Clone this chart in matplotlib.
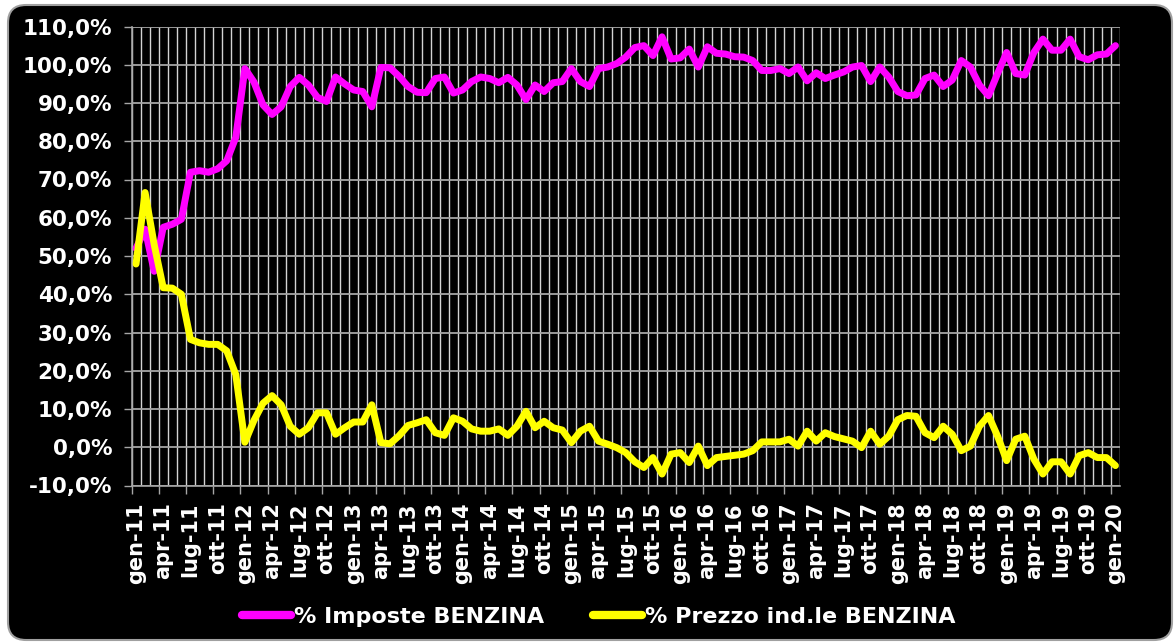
import numpy as np
import matplotlib
matplotlib.use("Agg")
import matplotlib.pyplot as plt
from matplotlib.patches import FancyBboxPatch
from matplotlib.transforms import IdentityTransform

# ---------------- data ----------------
month_names = ["gen", "feb", "mar", "apr", "mag", "giu",
               "lug", "ago", "set", "ott", "nov", "dic"]
years = list(range(11, 21))
months = [f"{m}-{y:02d}" for y in years for m in month_names][:109]

imposte = [52, 57, 46, 57.5, 58.3, 59.6, 71.9, 72.3, 71.9, 72.8,
           74.9, 81, 99, 95.5, 89.5, 87, 89, 94.3, 96.7, 94.7,
           91.5, 90.4, 96.8, 95, 93.4, 93, 89, 99.3, 99.2, 97,
           94.3, 92.8, 92.7, 96.4, 96.8, 92.6, 93.4, 95.6, 96.8, 96.4,
           95.3, 96.7, 94.7, 90.9, 94.7, 93, 95.3, 95.6, 99, 95.6,
           94.3, 99, 99.4, 100.3, 102, 104.5, 105, 102.4, 107.3, 101.5,
           101.8, 104.1, 99.4, 104.7, 103, 102.8, 102.1, 102, 101.1, 98.5,
           98.5, 99, 97.7, 99.4, 95.8, 97.9, 96.4, 97.3, 98.1, 99.4,
           99.8, 95.6, 99.4, 96.8, 93, 91.9, 92.1, 96.4, 97.3, 94.3,
           96, 101.1, 99.4, 94.7, 91.9, 97.7, 103.2, 97.7, 97.3, 103.2,
           106.7, 103.8, 103.8, 106.7, 102.1, 101.3, 102.6, 102.8, 105]

prezzo = [47.9, 66.6, 53, 41.7, 41.6, 40, 28.2, 27.3, 26.9, 26.9,
          25.2, 19, 1.3, 7, 11.5, 13.5, 11.1, 5.5, 3.4, 5.1,
          9, 9, 3.4, 5.1, 6.6, 6.6, 11.1, 1.2, 0.9, 3,
          5.7, 6.4, 7.2, 3.8, 3.1, 7.7, 6.8, 4.8, 4.2, 4.2,
          4.8, 3.1, 5.5, 9.4, 5.1, 6.8, 5.1, 4.5, 1.2, 4.2,
          5.5, 1.6, 0.8, -0.1, -1.4, -3.8, -5.3, -2.7, -7, -1.8,
          -1.4, -4, 0.3, -4.8, -2.7, -2.4, -2.1, -1.8, -0.9, 1.4,
          1.4, 1.4, 2.1, 0.3, 4.2, 1.6, 3.8, 2.8, 2.2, 1.6,
          -0.1, 4.2, 0.8, 2.9, 7.2, 8.3, 8.1, 3.8, 2.5, 5.5,
          3.4, -0.9, 0.3, 5.5, 8.3, 2.9, -3.5, 2.1, 2.9, -3.1,
          -7, -3.8, -3.8, -7, -2.2, -1.4, -2.7, -2.7, -4.8]

series_labels = ["% Imposte BENZINA", "% Prezzo ind.le BENZINA"]
y_ticks = list(range(-10, 111, 10))

# ---------------- figure ----------------
W, H = 1175, 644
fig = plt.figure(figsize=(W / 100, H / 100), dpi=100)
fig.patch.set_facecolor("white")

panel = FancyBboxPatch((8, 4), 1164, 635,
                       boxstyle="round,pad=0,rounding_size=18",
                       transform=IdentityTransform(),
                       facecolor="black", edgecolor="#a0a0a0",
                       linewidth=1.5, zorder=0)
fig.add_artist(panel)

left, right, top, bottom = 131.5, 1120, 26.5, 485.5
ax = fig.add_axes([left / W, 1 - bottom / H, (right - left) / W, (bottom - top) / H])
ax.set_facecolor("black")
ax.set_zorder(1)

n = len(months)
x = np.arange(n)

# vertical grid lines at month boundaries
ax.vlines(np.arange(n + 1) - 0.5, -10, 110, colors="#d4d4d4", linewidth=1.0, zorder=0.5)
ax.set_axisbelow(True)
ax.yaxis.grid(True, color="#a6a6a6", linewidth=1.3, zorder=0.6)

ax.plot(x, imposte, color="#FF00FF", linewidth=5, solid_joinstyle="round",
        solid_capstyle="round", label=series_labels[0], zorder=3)
ax.plot(x, prezzo, color="#FFFF00", linewidth=5, solid_joinstyle="round",
        solid_capstyle="round", label=series_labels[1], zorder=4)

ax.set_xlim(-0.5, n - 0.5)
ax.set_ylim(-10, 110)

# y axis
ax.set_yticks(y_ticks)
ax.set_yticklabels([f"{v:.1f}%".replace(".", ",") for v in y_ticks],
                   fontsize=15.5, fontweight="bold", color="white")
ax.tick_params(axis="y", length=6, width=1, color="#a6a6a6", pad=8)

# x axis: tick marks at quarter boundaries, labels at the months
tick_idx = np.arange(0, n, 3)
ax.set_xticks(tick_idx - 0.5)
ax.set_xticklabels([])
ax.tick_params(axis="x", which="major", length=6, width=1, color="#a6a6a6")
ax.set_xticks(tick_idx, minor=True)
ax.set_xticklabels([months[i] for i in tick_idx], minor=True, rotation=90,
                   fontsize=15, fontweight="bold", color="white")
ax.tick_params(axis="x", which="minor", length=0, pad=12)

for s in ["top", "right"]:
    ax.spines[s].set_visible(False)
for s in ["left", "bottom"]:
    ax.spines[s].set_color("#a6a6a6")
    ax.spines[s].set_linewidth(1.2)

handles, labels = ax.get_legend_handles_labels()
leg = fig.legend(handles, labels, loc="center",
                 bbox_to_anchor=(599 / W, 1 - 617 / H), ncol=2, frameon=False,
                 prop={"size": 16, "weight": "bold"}, labelcolor="white",
                 handlelength=2.2, handletextpad=0.15, columnspacing=2.2)
for line in leg.get_lines():
    line.set_linewidth(6)

fig.savefig("out.png", dpi=100, facecolor=fig.get_facecolor())
